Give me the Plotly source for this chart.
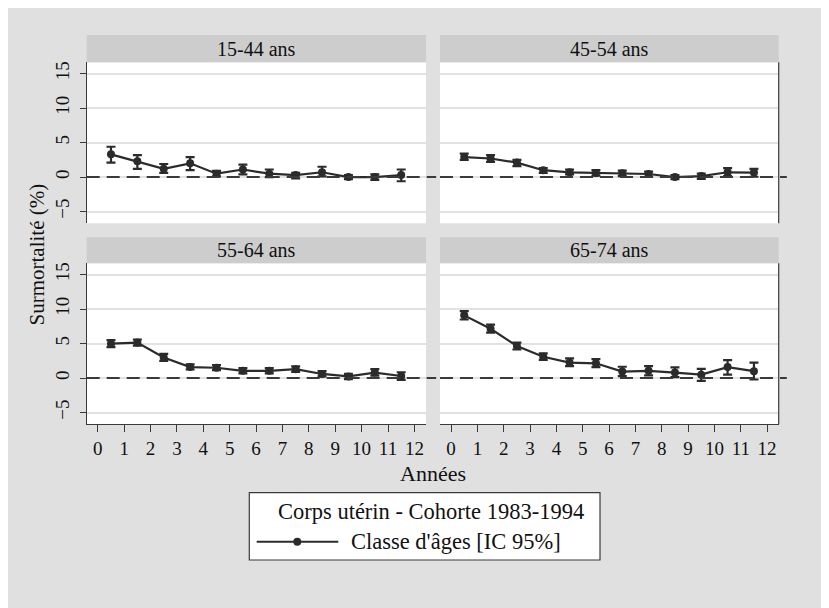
import plotly.graph_objects as go

# The page adds an 8px body margin, so the figure is sized to fit the window
W, H = 821, 600
OFF = 8

years = [0.5, 1.5, 2.5, 3.5, 4.5, 5.5, 6.5, 7.5, 8.5, 9.5, 10.5, 11.5]
x_ticks = [0, 1, 2, 3, 4, 5, 6, 7, 8, 9, 10, 11, 12]
y_ticks = [-5, 0, 5, 10, 15]

panel_titles = ["15-44 ans", "45-54 ans", "55-64 ans", "65-74 ans"]

est_15_44 = [3.3, 2.3, 1.2, 2.0, 0.5, 1.1, 0.5, 0.3, 0.7, 0.0, 0.0, 0.3]
lo_15_44 = [2.1, 1.2, 0.6, 1.0, 0.1, 0.4, 0.0, -0.2, 0.1, -0.3, -0.4, -0.6]
hi_15_44 = [4.4, 3.2, 1.9, 2.9, 0.9, 1.8, 1.1, 0.6, 1.5, 0.3, 0.4, 1.1]

est_45_54 = [2.9, 2.7, 2.1, 1.0, 0.7, 0.6, 0.55, 0.45, 0.0, 0.15, 0.7, 0.65]
lo_45_54 = [2.5, 2.2, 1.6, 0.6, 0.4, 0.2, 0.15, 0.05, -0.3, -0.25, 0.15, 0.05]
hi_45_54 = [3.4, 3.2, 2.5, 1.3, 1.1, 1.0, 0.95, 0.8, 0.3, 0.5, 1.3, 1.2]

est_55_64 = [5.0, 5.15, 3.0, 1.6, 1.5, 1.05, 1.05, 1.3, 0.6, 0.25, 0.8, 0.3]
lo_55_64 = [4.5, 4.7, 2.5, 1.25, 1.15, 0.7, 0.7, 0.9, 0.25, -0.15, 0.35, -0.25]
hi_55_64 = [5.5, 5.6, 3.5, 2.0, 1.9, 1.45, 1.45, 1.7, 1.0, 0.6, 1.3, 0.85]

est_65_74 = [9.1, 7.15, 4.65, 3.1, 2.25, 2.15, 0.95, 1.05, 0.8, 0.5, 1.6, 1.0]
lo_65_74 = [8.5, 6.6, 4.15, 2.65, 1.75, 1.6, 0.3, 0.4, 0.15, -0.4, 0.5, -0.2]
hi_65_74 = [9.7, 7.75, 5.15, 3.6, 2.85, 2.75, 1.65, 1.75, 1.55, 1.35, 2.6, 2.25]

series = [
    (est_15_44, lo_15_44, hi_15_44),
    (est_45_54, lo_45_54, hi_45_54),
    (est_55_64, lo_55_64, hi_55_64),
    (est_65_74, lo_65_74, hi_65_74),
]

legend_title = "Corps utérin - Cohorte 1983-1994"
legend_label = "Classe d'âges [IC 95%]"
y_title = "Surmortalité (%)"
x_title = "Années"

FONT = "Liberation Serif"
INK = "#2b2b2b"
AX = "#3a3a3a"
BG = "#e0e0e0"
STRIP = "#cdcdcd"
GRID = "#e2e2e2"
TXT = "#111111"


def px(x):
    return (x - OFF) / W


def py(y):
    return 1 - (y - OFF) / H


# panel geometry in page pixels
left_x = (86.7, 426.0)
right_x = (440.0, 778.7)
top_plot = (62.3, 223.3)
top_strip = (35.0, 62.3)
bot_plot = (263.3, 424.3)
bot_strip = (237.3, 263.3)

panels = [
    (left_x, top_plot, top_strip),
    (right_x, top_plot, top_strip),
    (left_x, bot_plot, bot_strip),
    (right_x, bot_plot, bot_strip),
]

fig = go.Figure()
layout = dict(
    width=W, height=H,
    margin=dict(l=0, r=0, t=0, b=0),
    paper_bgcolor=BG,
    plot_bgcolor="white",
    showlegend=False,
    font=dict(family=FONT, color=TXT),
)

shapes = []
annotations = []

for i, ((xa, xb), (ya, yb), (sa, sb)) in enumerate(panels):
    n = "" if i == 0 else str(i + 1)
    xname, yname = "xaxis" + n, "yaxis" + n
    xref, yref = "x" + n, "y" + n
    is_left = i in (0, 2)
    is_bottom = i in (2, 3)

    est, lo, hi = series[i]
    fig.add_trace(go.Scatter(
        x=years, y=est, mode="lines+markers",
        xaxis=xref, yaxis=yref,
        line=dict(color=INK, width=2.2),
        marker=dict(color=INK, size=8, symbol="circle"),
        error_y=dict(type="data", symmetric=False,
                     array=[h - e for h, e in zip(hi, est)],
                     arrayminus=[e - l for e, l in zip(est, lo)],
                     color=INK, thickness=2.2, width=4.5),
        name=legend_label,
    ))

    layout[xname] = dict(
        domain=[px(xa), px(xb)], anchor=yref,
        range=[-0.42, 12.44], tickvals=x_ticks,
        showgrid=False, zeroline=False,
        showline=is_bottom, linecolor=AX, linewidth=1.2,
        ticks="outside" if is_bottom else "", ticklen=7, tickcolor=AX, tickwidth=1.2,
        showticklabels=is_bottom,
        tickfont=dict(family=FONT, size=19, color=TXT),
    )
    layout[yname] = dict(
        domain=[py(yb), py(ya)], anchor=xref,
        range=[-6.7, 16.65], tickvals=y_ticks,
        showgrid=True, gridcolor=GRID, gridwidth=1.6, zeroline=False,
        showline=is_left, linecolor=AX, linewidth=1.2,
        ticks="outside" if is_left else "", ticklen=6, tickcolor=AX, tickwidth=1.2,
        showticklabels=is_left, tickangle=-90, ticklabelstandoff=3,
        tickfont=dict(family=FONT, size=19, color=TXT),
    )

    # panel strip
    shapes.append(dict(type="rect", xref="paper", yref="paper",
                       x0=px(xa), x1=px(xb), y0=py(sb), y1=py(sa),
                       fillcolor=STRIP, line=dict(width=0), layer="below"))
    annotations.append(dict(text=panel_titles[i], xref="paper", yref="paper",
                            x=px((xa + xb) / 2), y=py((sa + sb) / 2),
                            xanchor="center", yanchor="middle", showarrow=False,
                            font=dict(family=FONT, size=20, color=TXT)))

    # reference line at 0
    shapes.append(dict(type="line", xref=xref + " domain", yref=yref,
                       x0=0, x1=1.03 if is_left else 1.024, y0=0, y1=0,
                       line=dict(color=AX, width=2, dash="13px,7px"), layer="above"))

    if not is_left:
        shapes.append(dict(type="line", xref=xref + " domain", yref=yref + " domain",
                           x0=1, x1=1, y0=0, y1=1,
                           line=dict(color=AX, width=1.2), layer="above"))

# axis titles
annotations.append(dict(text=y_title, xref="paper", yref="paper",
                        x=px(36.5), y=py(255), textangle=-90,
                        xanchor="center", yanchor="middle", showarrow=False,
                        font=dict(family=FONT, size=21, color=TXT)))
annotations.append(dict(text=x_title, xref="paper", yref="paper",
                        x=px(432.7), y=py(473),
                        xanchor="center", yanchor="middle", showarrow=False,
                        font=dict(family=FONT, size=22, color=TXT)))

# legend box
shapes.append(dict(type="rect", xref="paper", yref="paper",
                   x0=px(249.3), x1=px(600), y0=py(560), y1=py(492.7),
                   fillcolor="white", line=dict(color=AX, width=1.2), layer="below"))
annotations.append(dict(text=legend_title, xref="paper", yref="paper",
                        x=px(431.5), y=py(511.7), xanchor="center", yanchor="middle",
                        showarrow=False, font=dict(family=FONT, size=22.5, color=TXT)))
shapes.append(dict(type="line", xref="paper", yref="paper",
                   x0=px(256.7), x1=px(338.3), y0=py(541.7), y1=py(541.7),
                   line=dict(color=INK, width=2), layer="above"))
shapes.append(dict(type="circle", xref="paper", yref="paper",
                   x0=px(297.3 - 4), x1=px(297.3 + 4), y0=py(541.7 + 4), y1=py(541.7 - 4),
                   fillcolor=INK, line=dict(color=INK, width=0), layer="above"))
annotations.append(dict(text=legend_label, xref="paper", yref="paper",
                        x=px(349.3), y=py(541.7), xanchor="left", yanchor="middle",
                        showarrow=False, font=dict(family=FONT, size=22.5, color=TXT)))

layout["shapes"] = shapes
layout["annotations"] = annotations
fig.update_layout(**layout)

fig.write_html("out.html")
